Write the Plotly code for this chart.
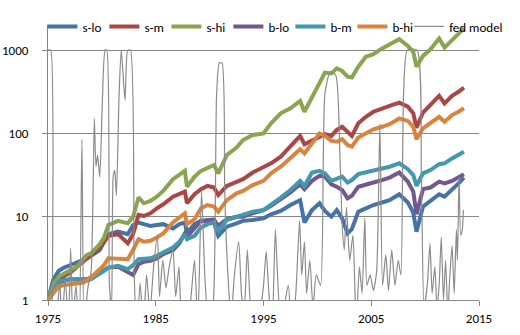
import plotly.graph_objects as go

# Observation dates (decimal years) shared by the six portfolio series
dates = [1975.0, 1975.5, 1976.0, 1976.5, 1977.1, 1977.7, 1978.3, 1978.6, 1979.0, 1979.8,
         1980.2, 1980.6, 1981.5, 1982.4, 1982.9, 1983.4, 1983.9, 1984.5, 1985.1, 1985.7,
         1986.6, 1987.2, 1987.7, 1987.9, 1988.6, 1989.2, 1989.8, 1990.4, 1990.8, 1991.6,
         1992.5, 1993.1, 1994.0, 1995.0, 1995.7, 1996.6, 1997.5, 1998.4, 1998.8, 1999.5,
         2000.2, 2000.7, 2001.3, 2001.8, 2002.3, 2002.8, 2003.2, 2003.8, 2004.5, 2005.2,
         2006.0, 2006.7, 2007.6, 2008.4, 2008.9, 2009.2, 2009.8, 2010.5, 2011.3, 2011.8,
         2012.5, 2013.1, 2013.6]

s_lo = [1.0, 1.78, 2.24, 2.45, 2.63, 2.82, 3.02, 3.16, 3.39, 3.98,
        5.01, 6.17, 6.61, 6.17, 7.94, 8.51, 8.13, 7.76, 7.94, 8.13,
        7.24, 8.13, 8.51, 6.46, 8.13, 8.91, 8.71, 8.51, 5.89, 7.59,
        8.32, 8.91, 9.12, 9.55, 10.7, 11.7, 13.8, 15.8, 8.51, 12.0,
        14.5, 11.7, 10.0, 12.0, 9.55, 6.31, 7.08, 11.5, 12.6, 13.8,
        14.8, 15.8, 18.6, 14.8, 11.2, 6.61, 13.2, 15.5, 18.6, 17.4,
        20.9, 25.1, 29.5]

s_m = [1.0, 1.41, 1.78, 1.95, 2.14, 2.51, 2.95, 3.16, 3.47, 4.17,
       5.01, 5.89, 6.17, 4.79, 6.17, 10.5, 10.2, 11.0, 12.6, 14.1,
       17.4, 18.6, 20.0, 14.5, 18.6, 21.4, 23.4, 22.4, 18.2, 23.4,
       26.3, 28.2, 33.9, 38.9, 43.7, 52.5, 69.2, 93.3, 74.1, 81.3,
       91.2, 97.7, 93.3, 110, 120, 102, 93.3, 132, 158, 182,
       200, 214, 234, 209, 174, 117, 178, 224, 282, 229,
       282, 316, 355]

s_hi = [1.0, 1.51, 1.91, 2.09, 2.29, 2.51, 3.16, 3.47, 3.63, 4.68,
        5.62, 7.94, 8.91, 8.32, 10.0, 17.0, 14.5, 15.5, 17.4, 20.4,
        28.2, 31.6, 35.5, 22.9, 30.2, 35.5, 38.0, 41.7, 33.1, 55.0,
        67.6, 83.2, 95.5, 100, 132, 174, 200, 245, 182, 269,
        398, 537, 525, 603, 562, 479, 468, 631, 832, 891,
        1047, 1175, 1349, 1122, 955, 631, 851, 1023, 1380, 1072,
        1318, 1514, 1820]

b_lo = [1.0, 1.26, 1.62, 1.70, 1.78, 1.78, 1.78, 1.78, 1.86, 2.14,
        2.29, 2.45, 2.51, 2.14, 2.00, 2.69, 2.88, 2.95, 3.16, 3.55,
        3.98, 4.79, 6.31, 5.75, 7.24, 8.91, 9.12, 9.23, 7.76, 9.33,
        10.0, 10.0, 11.0, 12.0, 13.5, 16.2, 19.5, 24.5, 21.4, 26.9,
        30.9, 30.2, 24.5, 22.9, 20.9, 16.6, 17.8, 22.9, 24.0, 25.7,
        27.5, 29.5, 33.9, 26.3, 20.0, 10.7, 21.4, 22.4, 26.3, 25.1,
        26.9, 29.5, 32.4]

b_m = [1.0, 1.32, 1.66, 1.74, 1.78, 1.74, 1.70, 1.70, 1.78, 2.04,
       2.24, 2.45, 2.57, 2.34, 2.63, 3.09, 3.16, 3.16, 3.39, 3.72,
       4.27, 5.01, 6.17, 5.37, 5.89, 7.41, 8.13, 8.51, 6.76, 9.12,
       10.0, 10.5, 11.5, 12.0, 13.8, 17.0, 20.9, 26.9, 23.4, 33.9,
       35.5, 33.1, 26.9, 28.8, 30.2, 25.7, 27.5, 32.4, 33.9, 35.5,
       38.0, 39.8, 43.7, 37.2, 31.6, 23.4, 33.1, 36.3, 42.7, 43.7,
       50.1, 55.0, 60.3]

b_hi = [1.0, 1.20, 1.45, 1.51, 1.55, 1.58, 1.62, 1.74, 1.86, 2.34,
        2.63, 3.16, 3.16, 3.09, 3.98, 5.37, 5.01, 5.13, 5.62, 6.31,
        8.51, 9.77, 11.0, 8.13, 9.33, 12.6, 13.8, 13.2, 11.5, 15.8,
        19.1, 20.4, 24.0, 26.9, 33.1, 39.8, 50.1, 64.6, 57.5, 75.9,
        100, 93.3, 81.3, 79.4, 85.1, 72.4, 69.2, 89.1, 100, 112,
        120, 129, 151, 141, 120, 85.1, 115, 135, 158, 138,
        166, 182, 200]

# Fed model indicator (its own, irregular dates)
fed_dates = [1975.00, 1975.25, 1975.45, 1975.8, 1976.1, 1976.3, 1976.6, 1976.9, 1977.1, 1977.3,
             1977.6, 1977.9, 1978.15, 1978.35, 1978.7, 1979.0, 1979.3, 1979.45, 1979.6, 1979.8,
             1980.05, 1980.3, 1980.45, 1980.7, 1980.9, 1981.05, 1981.2, 1981.35, 1981.6, 1981.8,
             1982.15, 1982.4, 1982.65, 1983.0, 1983.25, 1983.55, 1983.85, 1984.15, 1984.45, 1984.8,
             1985.15, 1985.35, 1985.65, 1985.95, 1986.25, 1986.6, 1986.85, 1987.15, 1987.45, 1987.9,
             1988.3, 1988.6, 1988.9, 1989.25, 1989.55, 1989.9, 1990.35, 1990.65, 1990.9, 1991.15,
             1991.4, 1991.55, 1991.75, 1992.0, 1992.3, 1992.7, 1992.95, 1993.2, 1993.5, 1993.75,
             1994.1, 1994.6, 1995.0, 1995.25, 1995.5, 1995.8, 1996.1, 1996.3, 1996.6, 1997.3,
             1997.6, 1998.0, 1998.35, 1998.55, 1998.8, 1999.0, 1999.3, 1999.6, 1999.9, 2000.3,
             2000.7, 2001.2, 2001.7, 2002.1, 2002.3, 2002.5, 2002.7, 2003.0, 2003.3, 2003.6,
             2003.9, 2004.15, 2004.4, 2004.6, 2004.9, 2005.2, 2005.5, 2005.8, 2006.05, 2006.35,
             2006.6, 2006.9, 2007.2, 2007.5, 2007.75, 2008.0, 2008.35, 2009.25, 2009.65, 2009.9,
             2010.2, 2010.45, 2010.65, 2010.9, 2011.1, 2011.3, 2011.5, 2011.7, 2011.9, 2012.1,
             2012.3, 2012.5, 2012.7, 2012.9, 2013.0, 2013.15, 2013.3, 2013.45, 2013.55]

fed_model = [1000, 1000, 0.3, 0.6, 1.6, 0.5, 1.8, 0.5, 4.2, 0.6,
             1.5, 0.4, 85, 0.5, 1.4, 2.2, 150, 40, 55, 30,
             250, 1000, 1000, 1.5, 0.8, 30, 36, 18, 300, 1000,
             250, 1000, 1000, 2, 0.4, 1.6, 0.5, 2.0, 0.7, 2.5,
             6, 1.1, 3, 1.4, 2.5, 4, 1.1, 2.5, 0.5, 0.4,
             1.2, 3, 0.5, 20, 2, 0.5, 1, 300, 700, 700,
             20, 5, 1.5, 0.6, 2, 5, 1.2, 0.7, 4, 1.0,
             0.4, 0.6, 1.5, 3.8, 1.2, 0.5, 7, 2, 0.5, 1.5,
             0.4, 1.2, 9, 2, 5, 1.2, 3, 0.8, 2, 1.5,
             300, 550, 500, 50, 8, 4, 13, 3, 6, 0.5,
             2.5, 1.2, 9.7, 1.5, 2, 1.3, 2.2, 130, 1.5, 3.5,
             1.3, 4, 1.5, 3, 2, 300, 1000, 1000, 30, 0.8,
             1.5, 4.8, 1.2, 2.5, 0.8, 1.5, 5.7, 1.0, 3, 0.7,
             2, 4.5, 1.2, 7, 3, 30, 6, 7, 12]

x_ticks = [1975, 1985, 1995, 2005, 2015]
y_ticks = [1, 10, 100, 1000]

series = [
    ("s-lo", s_lo, "#4572A7"),
    ("s-m", s_m, "#AA4643"),
    ("s-hi", s_hi, "#89A54E"),
    ("b-lo", b_lo, "#71588F"),
    ("b-m", b_m, "#4198AF"),
    ("b-hi", b_hi, "#DB843D"),
]

axis_grey = "#868686"
font_family = "Calibri, Carlito, Lato, sans-serif"

fig = go.Figure()
for name, vals, color in series:
    fig.add_trace(go.Scatter(x=dates, y=vals, name=name, mode="lines",
                             line=dict(color=color, width=4), legend="legend"))

fig.add_trace(go.Scatter(x=fed_dates, y=fed_model, name="fed model", mode="lines",
                         line=dict(color="#8C8C8C", width=1.2, shape="spline", smoothing=0.6),
                         legend="legend2"))

legend_common = dict(orientation="h", y=1.049, xanchor="left", yanchor="top",
                     bgcolor="rgba(0,0,0,0)", itemwidth=30, font=dict(size=13),
                     tracegroupgap=0)

fig.update_layout(
    width=520, height=335,
    margin=dict(l=48, r=21, t=15, b=35),
    paper_bgcolor="white", plot_bgcolor="white",
    font=dict(family=font_family, size=13, color="black"),
    showlegend=True,
    legend=dict(x=-0.013, entrywidth=17, entrywidthmode="pixels", **legend_common),
    legend2=dict(x=0.838, **legend_common),
)
fig.update_xaxes(range=[1975, 2015], tickvals=x_ticks, ticktext=[str(t) for t in x_ticks],
                 showgrid=False, zeroline=False, showline=True, linecolor=axis_grey,
                 ticks="outside", ticklen=5, tickcolor=axis_grey, ticklabelstandoff=1,
                 automargin=False)
fig.update_yaxes(type="log", range=[0, 3.301], tickvals=y_ticks,
                 ticktext=[str(t) for t in y_ticks],
                 showgrid=True, gridcolor=axis_grey, gridwidth=1, zeroline=False,
                 showline=True, linecolor=axis_grey, ticks="outside", ticklen=5,
                 tickcolor=axis_grey, ticklabelstandoff=11, automargin=False)

fig.write_html("out.html")
